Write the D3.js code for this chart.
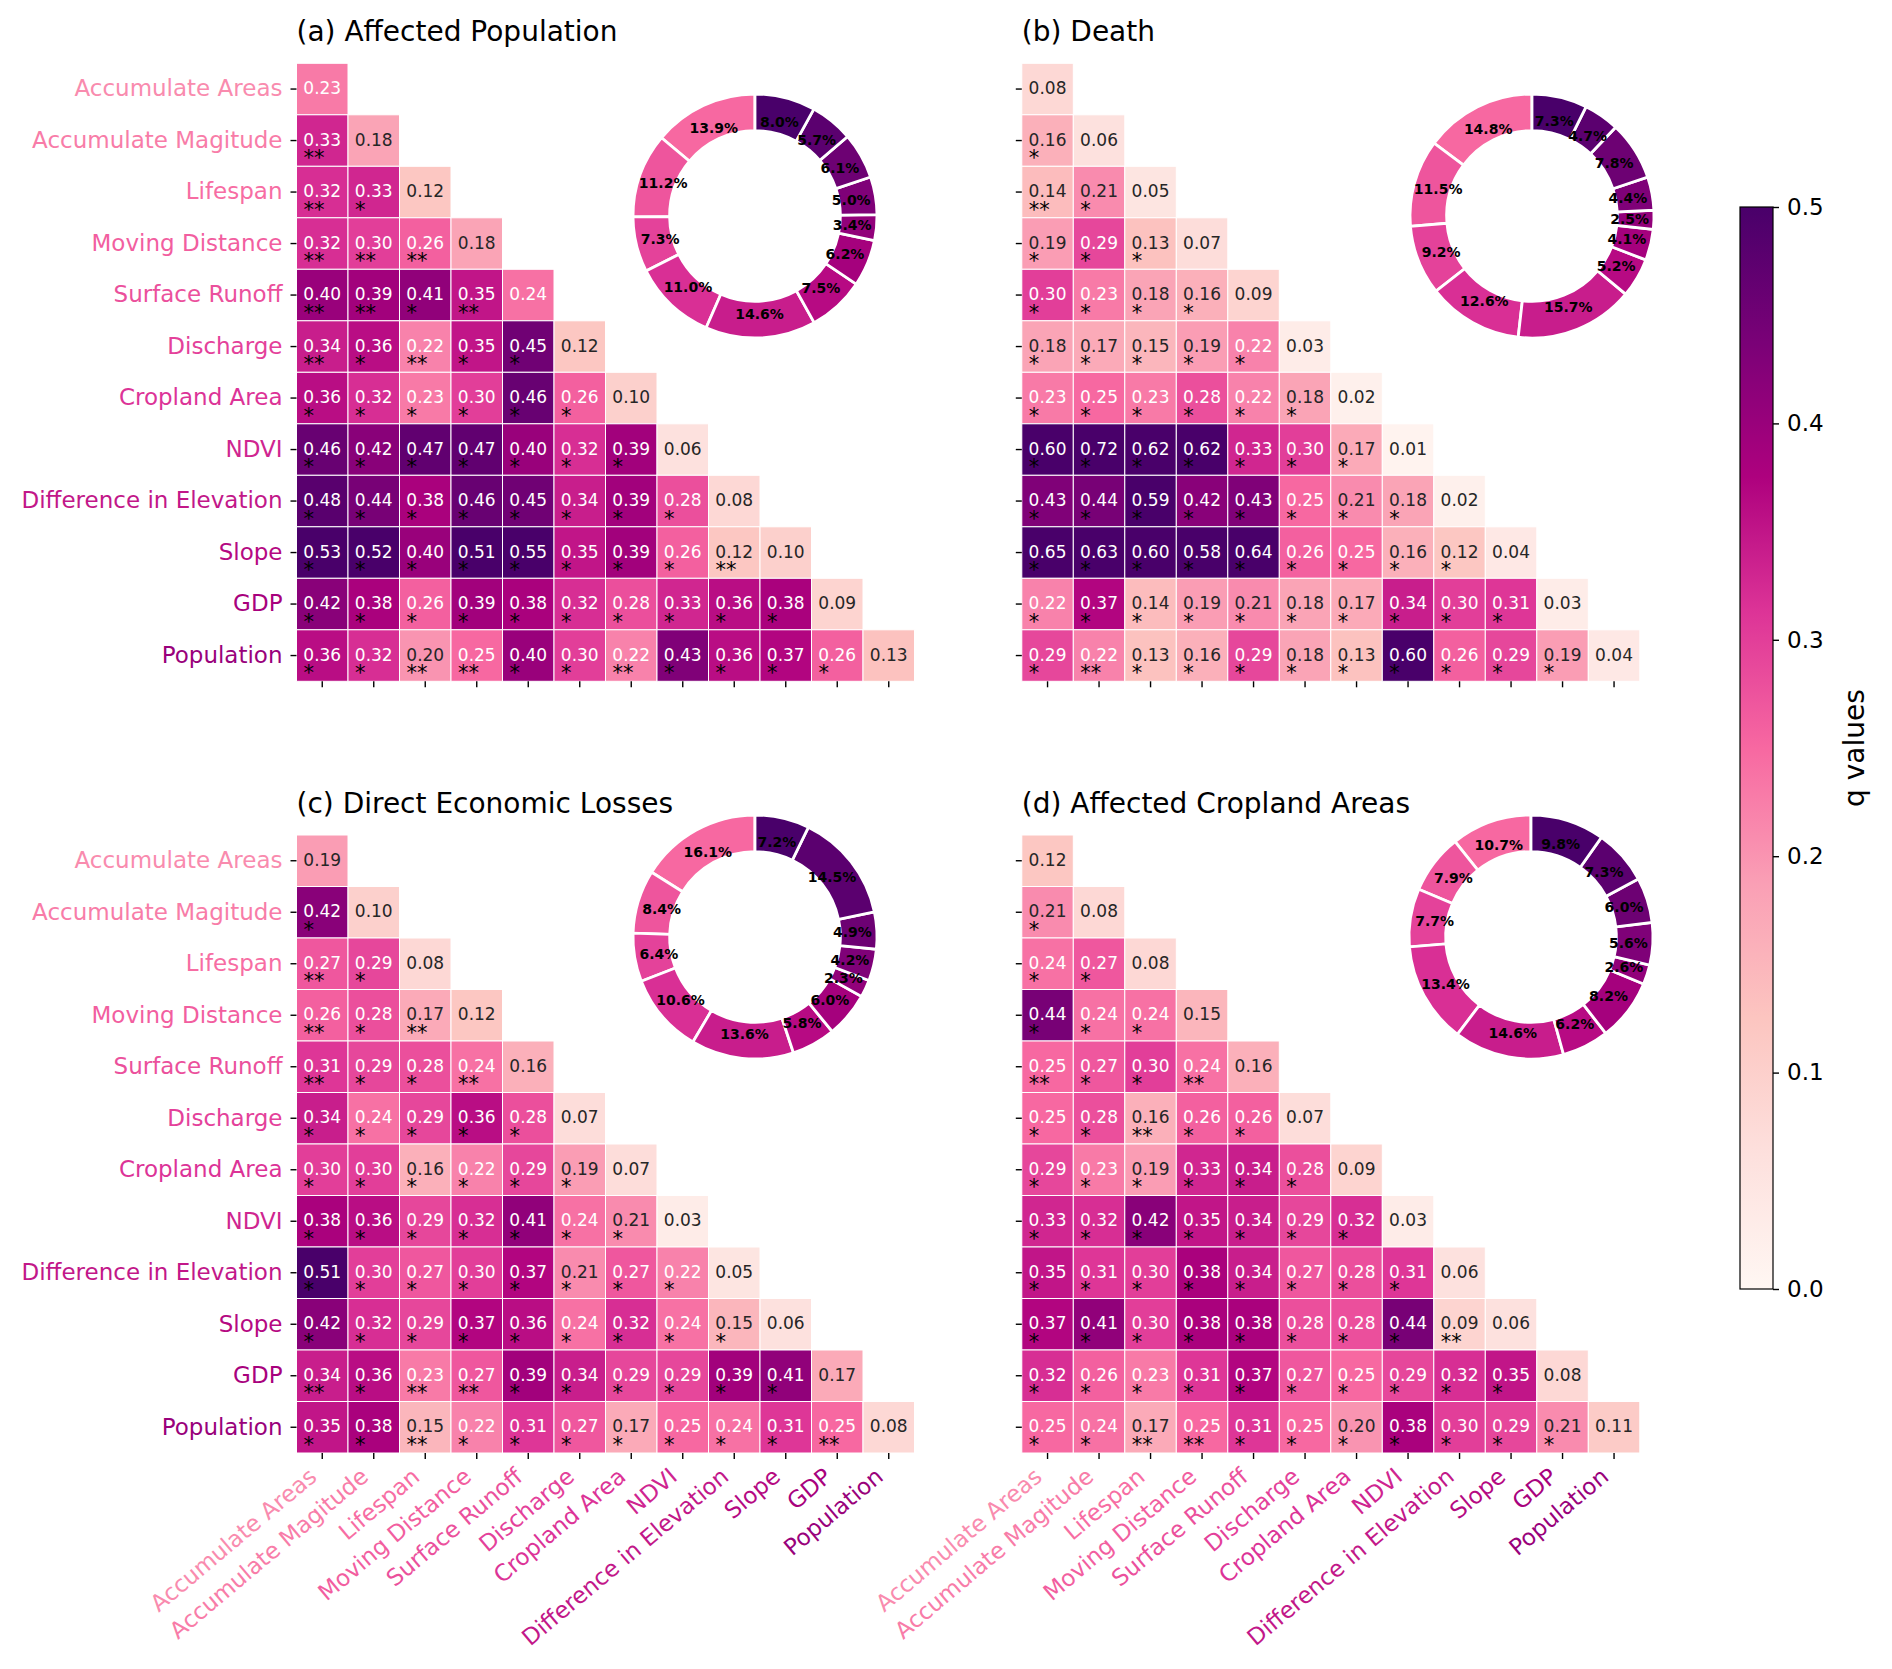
<!DOCTYPE html>
<html>
<head>
<meta charset="utf-8">
<script src="https://cdn.jsdelivr.net/npm/d3@7"></script>
<style>
body { margin: 0; background: #fff; }
svg { display: block; font-family: "DejaVu Sans", sans-serif; }
</style>
</head>
<body>
<svg id="chart" width="1892" height="1669"></svg>
<script>
// factor names (rows / columns of every matrix, and the donut slices)
const factors = ["Accumulate Areas", "Accumulate Magitude", "Lifespan", "Moving Distance",
    "Surface Runoff", "Discharge", "Cropland Area", "NDVI", "Difference in Elevation",
    "Slope", "GDP", "Population"];

const titles = ["(a) Affected Population", "(b) Death", "(c) Direct Economic Losses", "(d) Affected Cropland Areas"];

// lower-triangle q values, row by row
const qAffectedPop = [
    [0.23],
    [0.33, 0.18],
    [0.32, 0.33, 0.12],
    [0.32, 0.30, 0.26, 0.18],
    [0.40, 0.39, 0.41, 0.35, 0.24],
    [0.34, 0.36, 0.22, 0.35, 0.45, 0.12],
    [0.36, 0.32, 0.23, 0.30, 0.46, 0.26, 0.10],
    [0.46, 0.42, 0.47, 0.47, 0.40, 0.32, 0.39, 0.06],
    [0.48, 0.44, 0.38, 0.46, 0.45, 0.34, 0.39, 0.28, 0.08],
    [0.53, 0.52, 0.40, 0.51, 0.55, 0.35, 0.39, 0.26, 0.12, 0.10],
    [0.42, 0.38, 0.26, 0.39, 0.38, 0.32, 0.28, 0.33, 0.36, 0.38, 0.09],
    [0.36, 0.32, 0.20, 0.25, 0.40, 0.30, 0.22, 0.43, 0.36, 0.37, 0.26, 0.13]
];
const qDeath = [
    [0.08],
    [0.16, 0.06],
    [0.14, 0.21, 0.05],
    [0.19, 0.29, 0.13, 0.07],
    [0.30, 0.23, 0.18, 0.16, 0.09],
    [0.18, 0.17, 0.15, 0.19, 0.22, 0.03],
    [0.23, 0.25, 0.23, 0.28, 0.22, 0.18, 0.02],
    [0.60, 0.72, 0.62, 0.62, 0.33, 0.30, 0.17, 0.01],
    [0.43, 0.44, 0.59, 0.42, 0.43, 0.25, 0.21, 0.18, 0.02],
    [0.65, 0.63, 0.60, 0.58, 0.64, 0.26, 0.25, 0.16, 0.12, 0.04],
    [0.22, 0.37, 0.14, 0.19, 0.21, 0.18, 0.17, 0.34, 0.30, 0.31, 0.03],
    [0.29, 0.22, 0.13, 0.16, 0.29, 0.18, 0.13, 0.60, 0.26, 0.29, 0.19, 0.04]
];
const qEconLoss = [
    [0.19],
    [0.42, 0.10],
    [0.27, 0.29, 0.08],
    [0.26, 0.28, 0.17, 0.12],
    [0.31, 0.29, 0.28, 0.24, 0.16],
    [0.34, 0.24, 0.29, 0.36, 0.28, 0.07],
    [0.30, 0.30, 0.16, 0.22, 0.29, 0.19, 0.07],
    [0.38, 0.36, 0.29, 0.32, 0.41, 0.24, 0.21, 0.03],
    [0.51, 0.30, 0.27, 0.30, 0.37, 0.21, 0.27, 0.22, 0.05],
    [0.42, 0.32, 0.29, 0.37, 0.36, 0.24, 0.32, 0.24, 0.15, 0.06],
    [0.34, 0.36, 0.23, 0.27, 0.39, 0.34, 0.29, 0.29, 0.39, 0.41, 0.17],
    [0.35, 0.38, 0.15, 0.22, 0.31, 0.27, 0.17, 0.25, 0.24, 0.31, 0.25, 0.08]
];
const qCropland = [
    [0.12],
    [0.21, 0.08],
    [0.24, 0.27, 0.08],
    [0.44, 0.24, 0.24, 0.15],
    [0.25, 0.27, 0.30, 0.24, 0.16],
    [0.25, 0.28, 0.16, 0.26, 0.26, 0.07],
    [0.29, 0.23, 0.19, 0.33, 0.34, 0.28, 0.09],
    [0.33, 0.32, 0.42, 0.35, 0.34, 0.29, 0.32, 0.03],
    [0.35, 0.31, 0.30, 0.38, 0.34, 0.27, 0.28, 0.31, 0.06],
    [0.37, 0.41, 0.30, 0.38, 0.38, 0.28, 0.28, 0.44, 0.09, 0.06],
    [0.32, 0.26, 0.23, 0.31, 0.37, 0.27, 0.25, 0.29, 0.32, 0.35, 0.08],
    [0.25, 0.24, 0.17, 0.25, 0.31, 0.25, 0.20, 0.38, 0.30, 0.29, 0.21, 0.11]
];

// number of significance stars per cell (0 = none)
const sigAffectedPop = [
    [0],
    [2, 0],
    [2, 1, 0],
    [2, 2, 2, 0],
    [2, 2, 1, 2, 0],
    [2, 1, 2, 1, 1, 0],
    [1, 1, 1, 1, 1, 1, 0],
    [1, 1, 1, 1, 1, 1, 1, 0],
    [1, 1, 1, 1, 1, 1, 1, 1, 0],
    [1, 1, 1, 1, 1, 1, 1, 1, 2, 0],
    [1, 1, 1, 1, 1, 1, 1, 1, 1, 1, 0],
    [1, 1, 2, 2, 1, 1, 2, 1, 1, 1, 1, 0]
];
const sigDeath = [
    [0],
    [1, 0],
    [2, 1, 0],
    [1, 1, 1, 0],
    [1, 1, 1, 1, 0],
    [1, 1, 1, 1, 1, 0],
    [1, 1, 1, 1, 1, 1, 0],
    [1, 1, 1, 1, 1, 1, 1, 0],
    [1, 1, 1, 1, 1, 1, 1, 1, 0],
    [1, 1, 1, 1, 1, 1, 1, 1, 1, 0],
    [1, 1, 1, 1, 1, 1, 1, 1, 1, 1, 0],
    [1, 2, 1, 1, 1, 1, 1, 1, 1, 1, 1, 0]
];
const sigEconLoss = [
    [0],
    [1, 0],
    [2, 1, 0],
    [2, 1, 2, 0],
    [2, 1, 1, 2, 0],
    [1, 1, 1, 1, 1, 0],
    [1, 1, 1, 1, 1, 1, 0],
    [1, 1, 1, 1, 1, 1, 1, 0],
    [1, 1, 1, 1, 1, 1, 1, 1, 0],
    [1, 1, 1, 1, 1, 1, 1, 1, 1, 0],
    [2, 1, 2, 2, 1, 1, 1, 1, 1, 1, 0],
    [1, 1, 2, 1, 1, 1, 1, 1, 1, 1, 2, 0]
];
const sigCropland = [
    [0],
    [1, 0],
    [1, 1, 0],
    [1, 1, 1, 0],
    [2, 1, 1, 2, 0],
    [1, 1, 2, 1, 1, 0],
    [1, 1, 1, 1, 1, 1, 0],
    [1, 1, 1, 1, 1, 1, 1, 0],
    [1, 1, 1, 1, 1, 1, 1, 1, 0],
    [1, 1, 1, 1, 1, 1, 1, 1, 2, 0],
    [1, 1, 1, 1, 1, 1, 1, 1, 1, 1, 0],
    [1, 1, 2, 2, 1, 1, 1, 1, 1, 1, 1, 0]
];

// donut shares (%), in factor order
const pctAffectedPop = [13.9, 11.2, 7.3, 11.0, 14.6, 7.5, 6.2, 3.4, 5.0, 6.1, 5.7, 8.0];
const pctDeath = [14.8, 11.5, 9.2, 12.6, 15.7, 5.2, 4.1, 2.5, 4.4, 7.8, 4.7, 7.3];
const pctEconLoss = [16.1, 8.4, 6.4, 10.6, 13.6, 5.8, 6.0, 2.3, 4.2, 4.9, 14.5, 7.2];
const pctCropland = [10.7, 7.9, 7.7, 13.4, 14.6, 6.2, 8.2, 2.6, 5.6, 6.0, 7.3, 9.8];

const cbTicks = [0.0, 0.1, 0.2, 0.3, 0.4, 0.5];

// ---------------------------------------------------------------
const svg = d3.select("#chart");
const cell = 51.5;
const donutR = 122;

// matplotlib-style RdPu (linear between the 9 brewer colours)
const rdpu = d3.scaleLinear()
    .domain(d3.range(9).map(i => i / 8))
    .range(d3.schemeRdPu[9])
    .interpolate(d3.interpolateRgb)
    .clamp(true);
const qNorm = d3.scaleLinear().domain([0, 0.5]).range([0, 1]).clamp(true);
const qColor = v => rdpu(qNorm(v));
const labelColor = d3.scaleLinear().domain([0, factors.length - 1]).range([0.42, 0.8]);
const sliceColor = d3.scaleLinear().domain([0, factors.length - 1]).range([0.5, 1.0]);

function textColor(fill) {
    const c = d3.rgb(fill);
    const lin = u => { u /= 255; return u <= 0.03928 ? u / 12.92 : Math.pow((u + 0.055) / 1.055, 2.4); };
    const lum = 0.2126 * lin(c.r) + 0.7152 * lin(c.g) + 0.0722 * lin(c.b);
    return lum > 0.408 ? "#262626" : "#ffffff";
}

const panels = [
    { title: titles[0], q: qAffectedPop, sig: sigAffectedPop, pct: pctAffectedPop, x0: 296.5, y0: 63.3, cx: 755, cy: 216, yLab: true, xLab: false },
    { title: titles[1], q: qDeath, sig: sigDeath, pct: pctDeath, x0: 1021.8, y0: 63.3, cx: 1532, cy: 216, yLab: false, xLab: false },
    { title: titles[2], q: qEconLoss, sig: sigEconLoss, pct: pctEconLoss, x0: 296.5, y0: 835, cx: 755, cy: 937, yLab: true, xLab: true },
    { title: titles[3], q: qCropland, sig: sigCropland, pct: pctCropland, x0: 1021.8, y0: 835, cx: 1531, cy: 937, yLab: false, xLab: true }
];

panels.forEach(p => {
    const g = svg.append("g");
    const x = d3.scaleBand().domain(factors).range([p.x0, p.x0 + cell * factors.length]);
    const y = d3.scaleBand().domain(factors).range([p.y0, p.y0 + cell * factors.length]);

    const cells = [];
    p.q.forEach((row, i) => row.forEach((v, j) => cells.push({ i, j, v, s: p.sig[i][j] })));

    const cg = g.selectAll("g.cell").data(cells).join("g").attr("class", "cell");
    cg.append("rect")
        .attr("x", d => x(factors[d.j]))
        .attr("y", d => y(factors[d.i]))
        .attr("width", x.bandwidth())
        .attr("height", y.bandwidth())
        .attr("fill", d => qColor(d.v))
        .attr("stroke", "#fff")
        .attr("stroke-width", 1);
    cg.append("text")
        .attr("x", d => x(factors[d.j]) + x.bandwidth() / 2)
        .attr("y", d => y(factors[d.i]) + y.bandwidth() / 2)
        .attr("dy", "0.3em")
        .attr("text-anchor", "middle")
        .style("font-size", "17px")
        .attr("fill", d => textColor(qColor(d.v)))
        .text(d => d.v.toFixed(2));
    cg.filter(d => d.s > 0).append("text")
        .attr("x", d => x(factors[d.j]) + 7)
        .attr("y", d => y(factors[d.i]) + y.bandwidth() * 0.975)
        .style("font-size", "21px")
        .attr("fill", "#000")
        .text(d => "*".repeat(d.s));

    // axes
    const yAxis = g.append("g")
        .attr("transform", `translate(${p.x0},0)`)
        .call(d3.axisLeft(y).tickSize(6).tickPadding(8).tickFormat(d => p.yLab ? d : ""));
    const xAxis = g.append("g")
        .attr("transform", `translate(0,${p.y0 + cell * factors.length})`)
        .call(d3.axisBottom(x).tickSize(6).tickPadding(8).tickFormat(d => p.xLab ? d : ""));
    [yAxis, xAxis].forEach(a => {
        a.select(".domain").remove();
        a.selectAll(".tick line").attr("stroke", "#000").attr("stroke-width", 1.4);
        a.selectAll(".tick text")
            .style("font-size", "23px")
            .style("font-family", "DejaVu Sans, sans-serif")
            .attr("fill", (d, i) => rdpu(labelColor(i)));
    });
    xAxis.selectAll(".tick text")
        .attr("x", 0).attr("y", 0).attr("dy", 0)
        .attr("text-anchor", "end")
        .attr("transform", "translate(-4,26) rotate(-40)");

    g.append("text")
        .attr("x", p.x0)
        .attr("y", p.y0 - 22)
        .style("font-size", "28px")
        .attr("fill", "#000")
        .text(p.title);

    // donut
    const pie = d3.pie().sort(null).value(d => d).startAngle(0).endAngle(-2 * Math.PI);
    const arc = d3.arc().innerRadius(donutR * 0.7).outerRadius(donutR);
    const labelArc = d3.arc().innerRadius(donutR * 0.8).outerRadius(donutR * 0.8);
    const dg = g.append("g").attr("transform", `translate(${p.cx},${p.cy})`);
    const arcs = pie(p.pct);
    dg.selectAll("path").data(arcs).join("path")
        .attr("d", arc)
        .attr("fill", (d, i) => rdpu(sliceColor(i)))
        .attr("stroke", "#fff")
        .attr("stroke-width", 2.8);
    dg.selectAll("text").data(arcs).join("text")
        .attr("transform", d => `translate(${labelArc.centroid(d)})`)
        .attr("text-anchor", "middle")
        .attr("dy", "0.36em")
        .style("font-size", "14px")
        .style("font-weight", "bold")
        .attr("fill", "#000")
        .text(d => d.data.toFixed(1) + "%");
});

// colorbar
const cb = { x: 1740, y0: 207, y1: 1289, w: 33 };
const grad = svg.append("defs").append("linearGradient")
    .attr("id", "cbGrad").attr("x1", 0).attr("y1", 1).attr("x2", 0).attr("y2", 0);
grad.selectAll("stop").data(d3.schemeRdPu[9]).join("stop")
    .attr("offset", (d, i) => i / 8)
    .attr("stop-color", d => d);
svg.append("rect")
    .attr("x", cb.x).attr("y", cb.y0)
    .attr("width", cb.w).attr("height", cb.y1 - cb.y0)
    .attr("fill", "url(#cbGrad)")
    .attr("stroke", "#000").attr("stroke-width", 1.2);
const cbScale = d3.scaleLinear().domain([0, 0.5]).range([cb.y1, cb.y0]);
const cbAxis = svg.append("g")
    .attr("transform", `translate(${cb.x + cb.w},0)`)
    .call(d3.axisRight(cbScale).tickValues(cbTicks).tickFormat(d3.format(".1f")).tickSize(6).tickPadding(8));
cbAxis.select(".domain").remove();
cbAxis.selectAll(".tick line").attr("stroke", "#000").attr("stroke-width", 1.4);
cbAxis.selectAll(".tick text").style("font-size", "23px").style("font-family", "DejaVu Sans, sans-serif").attr("fill", "#000");
svg.append("text")
    .attr("transform", `translate(1864,${(cb.y0 + cb.y1) / 2}) rotate(-90)`)
    .attr("text-anchor", "middle")
    .style("font-size", "28px")
    .attr("fill", "#000")
    .text("q values");
</script>
</body>
</html>
